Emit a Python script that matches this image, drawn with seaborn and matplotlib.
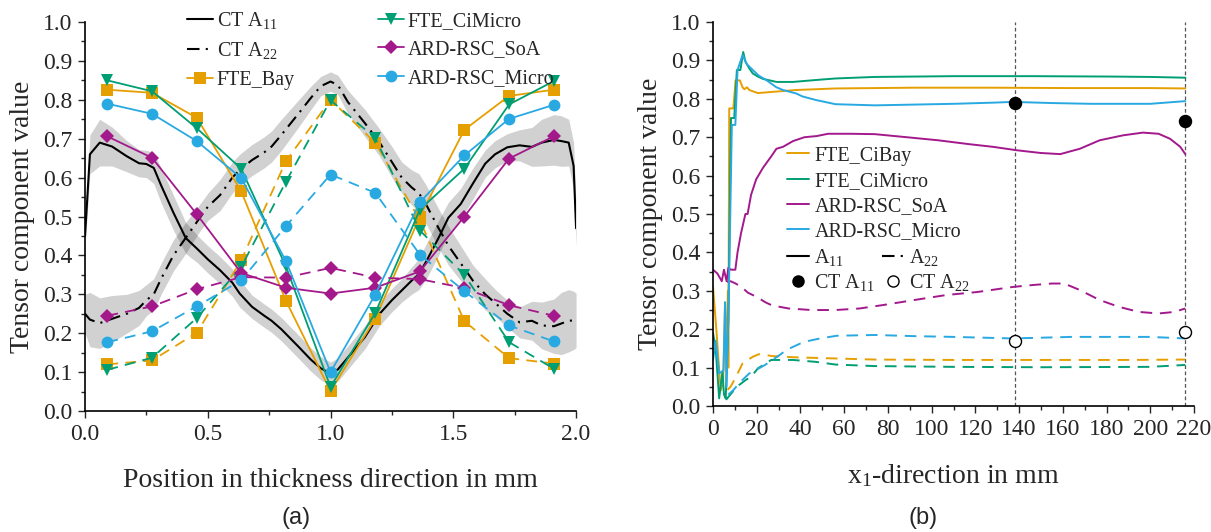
import numpy as np
import matplotlib
matplotlib.use("Agg")
import matplotlib.pyplot as plt
from matplotlib.lines import Line2D
from matplotlib.ticker import MultipleLocator
import seaborn as sns

# ---- colours
C_BAY = '#E69F00'
C_MICRO = '#009E73'
C_SOA = '#A3198C'
C_RSCM = '#29A9E1'

# ---- (a) thickness direction: layer centres and simulated values
layer_x = [0.091, 0.273, 0.455, 0.636, 0.818, 1.0, 1.182, 1.364, 1.545, 1.727, 1.909]

bay_a11 = [0.826, 0.818, 0.754, 0.565, 0.284, 0.051, 0.237, 0.50, 0.723, 0.810, 0.826]
bay_a22 = [0.120, 0.130, 0.201, 0.387, 0.642, 0.800, 0.690, 0.49, 0.231, 0.136, 0.122]
cimicro_a11 = [0.850, 0.822, 0.727, 0.623, 0.372, 0.062, 0.252, 0.518, 0.623, 0.788, 0.848]
cimicro_a22 = [0.106, 0.137, 0.239, 0.370, 0.589, 0.799, 0.702, 0.464, 0.350, 0.177, 0.109]
soa_a11 = [0.706, 0.651, 0.506, 0.355, 0.317, 0.302, 0.317, 0.359, 0.500, 0.649, 0.706]
soa_a22 = [0.245, 0.269, 0.313, 0.344, 0.343, 0.368, 0.343, 0.339, 0.316, 0.272, 0.245]
rscm_a11 = [0.790, 0.764, 0.694, 0.599, 0.386, 0.100, 0.299, 0.537, 0.657, 0.751, 0.787]
rscm_a22 = [0.177, 0.205, 0.269, 0.336, 0.475, 0.608, 0.561, 0.402, 0.308, 0.220, 0.179]

# CT measurement (mean and spread)
ct_x = [0, 0.02, 0.06, 0.11, 0.17, 0.22, 0.25, 0.28, 0.31, 0.36, 0.41, 0.46, 0.5, 0.55, 0.6, 0.63,
        0.68, 0.73, 0.76, 0.8, 0.87, 0.92, 0.96, 1.0, 1.03, 1.07, 1.14, 1.2, 1.25, 1.29, 1.33, 1.36,
        1.39, 1.44, 1.48, 1.53, 1.58, 1.63, 1.67, 1.72, 1.77, 1.82, 1.86, 1.91, 1.94, 1.97, 1.99, 2.0]
ct_a11 = [0.45, 0.66, 0.69, 0.68, 0.655, 0.637, 0.635, 0.625, 0.58, 0.51, 0.445, 0.415, 0.39, 0.362,
          0.33, 0.302, 0.268, 0.245, 0.232, 0.21, 0.165, 0.132, 0.11, 0.096, 0.107, 0.137, 0.19, 0.25,
          0.285, 0.31, 0.335, 0.352, 0.385, 0.445, 0.497, 0.532, 0.585, 0.636, 0.66, 0.678, 0.683,
          0.679, 0.69, 0.697, 0.694, 0.69, 0.63, 0.47]
ct_a11_sd = [0.03, 0.05, 0.06, 0.05, 0.04, 0.035, 0.035, 0.04, 0.045, 0.045, 0.04, 0.035, 0.035, 0.035,
             0.035, 0.035, 0.03, 0.03, 0.03, 0.03, 0.03, 0.03, 0.03, 0.03, 0.03, 0.03, 0.03, 0.03, 0.03,
             0.03, 0.035, 0.04, 0.045, 0.045, 0.04, 0.04, 0.04, 0.035, 0.035, 0.035, 0.04, 0.05, 0.06,
             0.065, 0.065, 0.06, 0.06, 0.05]
ct_a22 = [0.25, 0.235, 0.226, 0.237, 0.25, 0.265, 0.285, 0.3, 0.34, 0.4, 0.445, 0.49, 0.525, 0.555, 0.6,
          0.62, 0.645, 0.665, 0.68, 0.71, 0.765, 0.805, 0.835, 0.847, 0.838, 0.795, 0.74, 0.69, 0.64,
          0.6, 0.575, 0.56, 0.53, 0.47, 0.425, 0.38, 0.335, 0.3, 0.278, 0.25, 0.228, 0.232, 0.22, 0.218,
          0.225, 0.232, 0.233, 0.233]
ct_a22_sd = [0.05, 0.07, 0.065, 0.06, 0.05, 0.045, 0.04, 0.04, 0.04, 0.04, 0.04, 0.035, 0.035, 0.04, 0.04,
             0.04, 0.04, 0.04, 0.04, 0.04, 0.035, 0.03, 0.025, 0.025, 0.025, 0.03, 0.035, 0.035, 0.04,
             0.04, 0.045, 0.05, 0.05, 0.05, 0.05, 0.045, 0.04, 0.04, 0.035, 0.035, 0.04, 0.05, 0.06,
             0.07, 0.08, 0.08, 0.075, 0.07]

# ---- (b) flow direction x1
bay_x = [0, 1.5, 3.5, 4.6, 5.5, 6.1, 6.8, 7.0, 7.4, 9.3, 10.3, 12.3, 13.5, 14.3, 15.5, 16.6, 18, 20.5,
         27, 38, 47, 56, 74, 92, 128, 164, 200, 216]
bay_x_a11 = [0.31, 0.2, 0.04, 0.06, 0.27, 0.09, 0.3, 0.1, 0.775, 0.775, 0.848, 0.848, 0.83, 0.825, 0.83,
             0.823, 0.82, 0.815, 0.818, 0.823, 0.825, 0.827, 0.828, 0.829, 0.829, 0.828, 0.828, 0.827]
bay22_x = [6.6, 8, 10.5, 13.5, 18.1, 21, 27.4, 36.6, 55, 74, 110, 150, 190, 216]
bay_x_a22 = [0.042, 0.05, 0.076, 0.111, 0.128, 0.135, 0.13, 0.127, 0.124, 0.121, 0.12, 0.12, 0.12, 0.121]

mic_x = [0, 1.2, 2.8, 4.3, 5.0, 5.8, 7.0, 8.2, 9.7, 10.9, 12.5, 13.8, 14.8, 16.5, 18.2, 20.5, 22.8, 29,
         36.6, 47, 56, 74, 110, 146, 182, 200, 216]
mic_x_a11 = [0.19, 0.15, 0.02, 0.09, 0.03, 0.02, 0.22, 0.75, 0.75, 0.875, 0.875, 0.922, 0.897, 0.88,
             0.866, 0.858, 0.852, 0.844, 0.844, 0.849, 0.853, 0.857, 0.859, 0.859, 0.858, 0.857, 0.855]
mic22_x = [5.9, 9.7, 12, 15, 17.4, 20.5, 26.6, 36.6, 47, 56, 74, 110, 150, 200, 216]
mic_x_a22 = [0.016, 0.042, 0.055, 0.068, 0.076, 0.098, 0.12, 0.12, 0.115, 0.108, 0.104, 0.102, 0.101,
             0.102, 0.107]

soa_x = [0, 2, 4, 5, 6.2, 7, 8.2, 10.2, 11.2, 12.8, 14.8, 15.8, 17.4, 19.7, 22.8, 26.6, 29, 32, 36.6,
         41.8, 47.4, 52.6, 63, 74, 88.6, 103, 117, 128, 139, 149.8, 158.8, 167.8, 176.8, 187.6, 196.6,
         203.8, 209, 213.7, 216]
soa_x_a11 = [0.355, 0.345, 0.325, 0.355, 0.325, 0.36, 0.355, 0.355, 0.4, 0.45, 0.5, 0.5, 0.55, 0.59, 0.62,
             0.65, 0.67, 0.675, 0.69, 0.7, 0.703, 0.709, 0.709, 0.708, 0.7, 0.692, 0.682, 0.675, 0.666,
             0.659, 0.656, 0.67, 0.692, 0.705, 0.712, 0.709, 0.696, 0.675, 0.656]
soa22_x = [6.5, 8, 10, 13, 16, 20, 24, 27, 34.6, 45, 56, 67, 77.8, 92, 106.6, 121, 137, 146, 155,
           160.6, 167.8, 176.8, 185.8, 194.8, 203.8, 210.9, 216]
soa_x_a22 = [0.323, 0.325, 0.32, 0.31, 0.295, 0.284, 0.27, 0.262, 0.254, 0.25, 0.25, 0.254, 0.263,
             0.276, 0.289, 0.297, 0.31, 0.315, 0.319, 0.319, 0.302, 0.276, 0.258, 0.245, 0.241, 0.245,
             0.254]

rsc_x = [0, 1.2, 2.8, 4.8, 5.5, 6.2, 7.3, 8.6, 10.2, 11.2, 13.5, 15.5, 18.2, 21, 24.3, 29, 32, 38, 41,
         47, 56, 74, 92, 110, 128, 137, 155, 173, 200, 216]
rsc_x_a11 = [0.12, 0.17, 0.085, 0.093, 0.27, 0.05, 0.31, 0.732, 0.732, 0.875, 0.914, 0.89, 0.875, 0.86,
             0.849, 0.83, 0.823, 0.814, 0.806, 0.797, 0.786, 0.783, 0.785, 0.787, 0.79, 0.792, 0.789,
             0.787, 0.787, 0.794]
rsc22_x = [7, 9.4, 12, 16.6, 19.7, 23.8, 27.4, 31, 33.5, 40, 44, 49, 56.6, 74, 92, 110, 137, 164, 200, 216]
rsc_x_a22 = [0.03, 0.042, 0.06, 0.085, 0.094, 0.107, 0.121, 0.135, 0.146, 0.163, 0.17, 0.176, 0.183,
             0.185, 0.182, 0.18, 0.176, 0.18, 0.18, 0.176]

ct_pos = [138, 216]
ct_pos_a11 = [0.788, 0.742]
ct_pos_a22 = [0.169, 0.193]

# ---- style
sns.set_style('ticks')
plt.rcParams['font.family'] = 'serif'
plt.rcParams['font.serif'] = ['Liberation Serif', 'DejaVu Serif']
plt.rcParams['mathtext.fontset'] = 'custom'
plt.rcParams['mathtext.rm'] = 'Liberation Serif'
plt.rcParams['mathtext.it'] = 'Liberation Serif:italic'
plt.rcParams['mathtext.bf'] = 'Liberation Serif:bold'

DASH = (0, (6, 4))
DASHDOT = (0, (6, 3, 1, 3))

fig = plt.figure(figsize=(12.11, 5.32), dpi=100)
ax1 = fig.add_axes([0.0702, 0.2274, 0.4055, 0.7312])
ax2 = fig.add_axes([0.5888, 0.2368, 0.3972, 0.7218])

# ---- (a)
ax1.fill_between(ct_x, np.array(ct_a11) - np.array(ct_a11_sd), np.array(ct_a11) + np.array(ct_a11_sd),
                 color='black', alpha=0.18, lw=0)
ax1.fill_between(ct_x, np.array(ct_a22) - np.array(ct_a22_sd), np.array(ct_a22) + np.array(ct_a22_sd),
                 color='black', alpha=0.18, lw=0)
sns.lineplot(x=ct_x, y=ct_a11, ax=ax1, color='black', lw=1.5, sort=False, estimator=None)
sns.lineplot(x=ct_x, y=ct_a22, ax=ax1, color='black', lw=1.5, linestyle=DASHDOT, sort=False, estimator=None)

models = [
    (bay_a11, bay_a22, C_BAY, 's', 8),
    (cimicro_a11, cimicro_a22, C_MICRO, 'v', 9),
    (soa_a11, soa_a22, C_SOA, 'D', 7),
    (rscm_a11, rscm_a22, C_RSCM, 'o', 8.5),
]
for a11, a22, col, mk, ms in models:
    sns.lineplot(x=layer_x, y=a22, ax=ax1, color=col, lw=1.3, linestyle=DASH, marker=mk, markersize=ms,
                 markeredgewidth=0, sort=False, estimator=None)
    sns.lineplot(x=layer_x, y=a11, ax=ax1, color=col, lw=1.3, marker=mk, markersize=ms,
                 markeredgewidth=0, sort=False, estimator=None)

ax1.set_xlim(0, 2.0)
ax1.set_ylim(0, 1.0)
ax1.xaxis.set_major_locator(MultipleLocator(0.5))
ax1.xaxis.set_minor_locator(MultipleLocator(0.25))
ax1.yaxis.set_major_locator(MultipleLocator(0.1))
ax1.yaxis.set_minor_locator(MultipleLocator(0.05))
ax1.set_xlabel('Position in thickness direction in mm', fontsize=20, labelpad=17)
ax1.set_ylabel('Tensor component value', fontsize=20, labelpad=6)

h_a = [
    Line2D([], [], color='black', lw=1.5),
    Line2D([], [], color='black', lw=1.5, linestyle=DASHDOT),
    Line2D([], [], color=C_BAY, lw=1.3, marker='s', ms=8, mew=0),
    Line2D([], [], color=C_MICRO, lw=1.3, marker='v', ms=9, mew=0),
    Line2D([], [], color=C_SOA, lw=1.3, marker='D', ms=7, mew=0),
    Line2D([], [], color=C_RSCM, lw=1.3, marker='o', ms=8.5, mew=0),
]
l_a = ['CT A$_{11}$', 'CT A$_{22}$', 'FTE_Bay', 'FTE_CiMicro', 'ARD-RSC_SoA', 'ARD-RSC_Micro']
ax1.legend(h_a, l_a, ncol=2, loc='upper left', bbox_to_anchor=(0.207, 1.03), frameon=False,
           fontsize=14.5, handlelength=1.3, handletextpad=0.2, columnspacing=4.1, labelspacing=0.45,
           borderpad=0, borderaxespad=0)

# ---- (b)
for xv in ct_pos:
    ax2.axvline(xv, color='#555555', lw=0.9, linestyle=(0, (3, 2)), zorder=1)

series_b = [
    (bay_x, bay_x_a11, bay22_x, bay_x_a22, C_BAY),
    (mic_x, mic_x_a11, mic22_x, mic_x_a22, C_MICRO),
    (soa_x, soa_x_a11, soa22_x, soa_x_a22, C_SOA),
    (rsc_x, rsc_x_a11, rsc22_x, rsc_x_a22, C_RSCM),
]
for xa, ya, xb, yb, col in series_b:
    sns.lineplot(x=xa, y=ya, ax=ax2, color=col, lw=1.4, sort=False, estimator=None)
    sns.lineplot(x=xb, y=yb, ax=ax2, color=col, lw=1.4, linestyle=DASH, sort=False, estimator=None)

sns.scatterplot(x=ct_pos, y=ct_pos_a11, ax=ax2, color='black', s=75, edgecolor='black', linewidth=1, zorder=5)
sns.scatterplot(x=ct_pos, y=ct_pos_a22, ax=ax2, color='white', s=75, edgecolor='black', linewidth=1, zorder=5)

ax2.set_xlim(0, 220)
ax2.set_ylim(0, 1.0)
ax2.xaxis.set_major_locator(MultipleLocator(20))
ax2.xaxis.set_minor_locator(MultipleLocator(10))
ax2.yaxis.set_major_locator(MultipleLocator(0.1))
ax2.yaxis.set_minor_locator(MultipleLocator(0.05))
ax2.set_xlabel('x$_1$-direction in mm', fontsize=20, labelpad=16)
ax2.set_ylabel('Tensor component value', fontsize=20, labelpad=6)

h_b1 = [Line2D([], [], color=c, lw=1.4) for c in (C_BAY, C_MICRO, C_SOA, C_RSCM)]
l_b1 = ['FTE_CiBay', 'FTE_CiMicro', 'ARD-RSC_SoA', 'ARD-RSC_Micro']
leg1 = ax2.legend(h_b1, l_b1, loc='upper left', bbox_to_anchor=(0.154, 0.676), frameon=False,
                  fontsize=14.5, handlelength=1.1, handletextpad=0.25, labelspacing=0.3,
                  borderpad=0, borderaxespad=0)
ax2.add_artist(leg1)
h_b2 = [
    Line2D([], [], color='black', lw=1.5),
    Line2D([], [], color='black', marker='o', ms=8, linestyle='none'),
    Line2D([], [], color='black', lw=1.5, linestyle=DASHDOT),
    Line2D([], [], color='black', marker='o', ms=8, mfc='white', linestyle='none'),
]
l_b2 = ['A$_{11}$', 'CT A$_{11}$', 'A$_{22}$', 'CT A$_{22}$']
ax2.legend(h_b2, l_b2, ncol=2, loc='upper left', bbox_to_anchor=(0.154, 0.415), frameon=False,
           fontsize=14.5, handlelength=1.1, handletextpad=0.25, labelspacing=0.2, columnspacing=0.35,
           borderpad=0, borderaxespad=0)

for ax in (ax1, ax2):
    sns.despine(ax=ax)
    ax.tick_params(which='major', direction='out', length=5, width=1, labelsize=17, pad=4)
    ax.tick_params(which='minor', direction='out', length=3, width=1)
    for lab in ax.get_xticklabels() + ax.get_yticklabels():
        lab.set_fontfamily('Liberation Serif')
    for s in ('left', 'bottom'):
        ax.spines[s].set_linewidth(1.2)
        ax.spines[s].set_color('black')

fig.text(296 / 1211, 1 - 518 / 532, '(a)', ha='center', va='center', fontsize=17, family='Liberation Sans')
fig.text(923 / 1211, 1 - 518 / 532, '(b)', ha='center', va='center', fontsize=17, family='Liberation Sans')

fig.savefig('out.png', dpi=100)
